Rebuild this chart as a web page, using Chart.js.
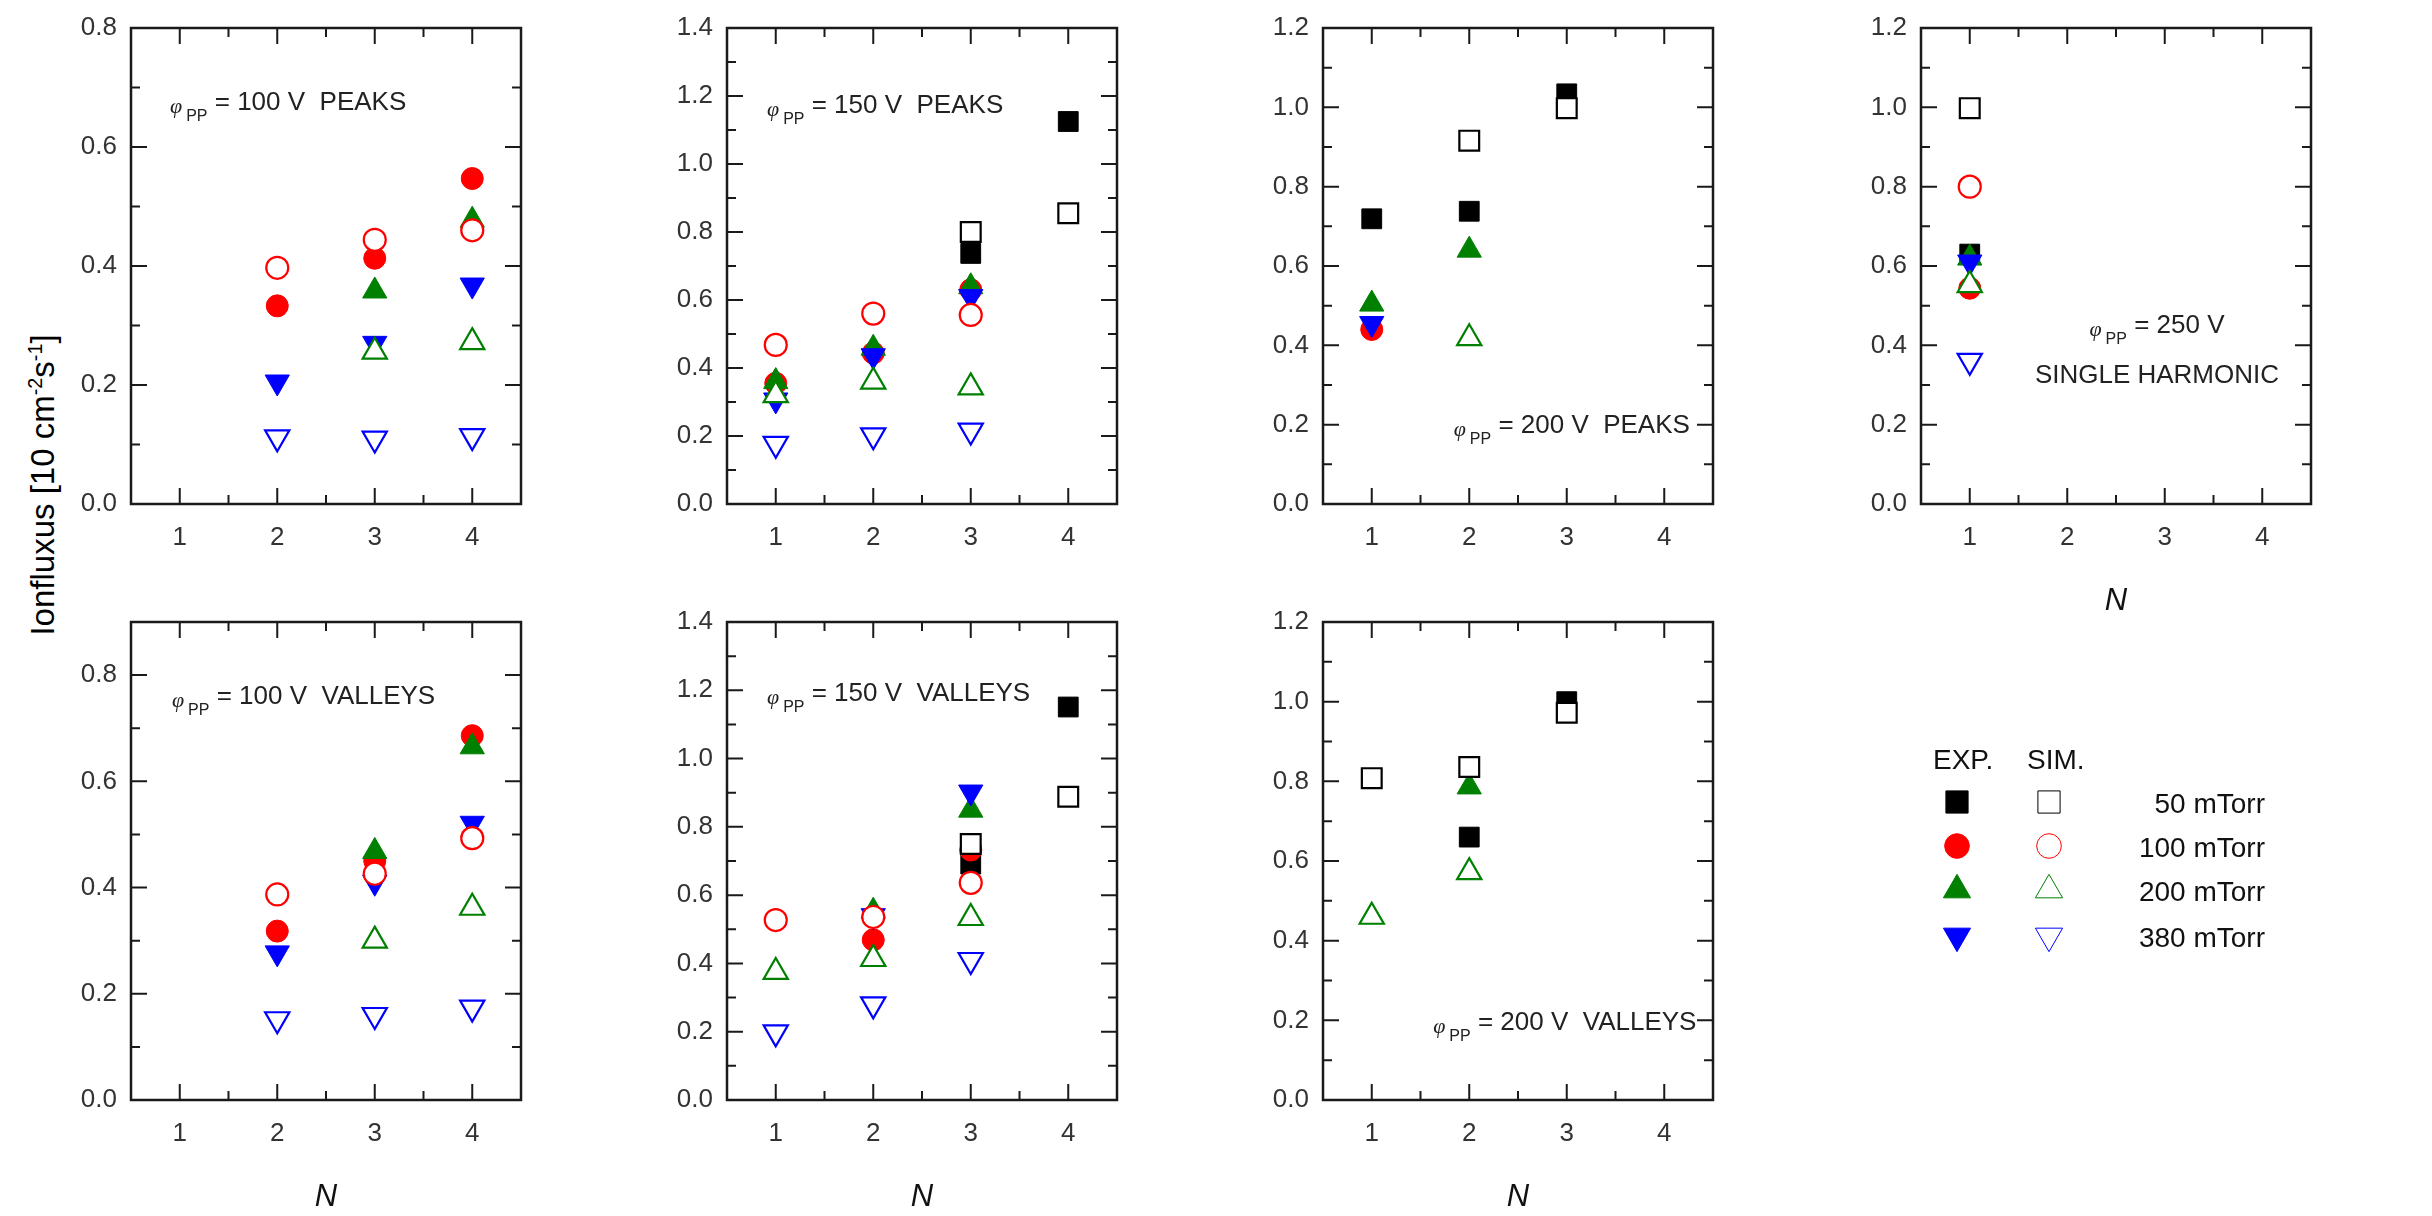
<!DOCTYPE html>
<html>
<head>
<meta charset="utf-8">
<title>Ionfluxus</title>
<script src="https://cdn.jsdelivr.net/npm/chart.js@4.4.1/dist/chart.umd.min.js"></script>
<style>
    body {
        margin: 0;
        background: #fff;
        width: 2432px;
        height: 1216px;
        position: relative;
        overflow: hidden;
        font-family: "Liberation Sans", Arial, sans-serif;
    }
    .panel { position: absolute; }
    #ytitle {
        position: absolute;
        left: 43px;
        top: 485px;
        transform: translate(-50%, -50%) rotate(-90deg);
        white-space: nowrap;
        font-size: 33px;
        color: #000;
    }
    #ytitle sup { font-size: 0.6em; }
    #legend { position: absolute; left: 1900px; top: 720px; }
</style>
</head>
<body>
<div id="ytitle">Ionfluxus [10 cm<sup>-2</sup>s<sup>-1</sup>]</div>
<canvas id="legend" width="420" height="260"></canvas>

<script>
// axis values
const N_TICKS = [1, 2, 3, 4];
const N_MINOR = [1.5, 2.5, 3.5];
const Y_TICKS_08 = [0, 0.2, 0.4, 0.6, 0.8];
const Y_TICKS_12 = [0, 0.2, 0.4, 0.6, 0.8, 1.0, 1.2];
const Y_TICKS_14 = [0, 0.2, 0.4, 0.6, 0.8, 1.0, 1.2, 1.4];
const PRESSURES = ['50 mTorr', '100 mTorr', '200 mTorr', '380 mTorr'];

// rows: 50 / 100 / 200 / 380 mTorr, columns: N = 1..4
const peaks100Exp = [
    [null, null, null, null],
    [null, 0.333, 0.413, 0.547],
    [null, null, 0.358, 0.477],
    [null, 0.205, 0.27, 0.368]
];
const peaks100Sim = [
    [null, null, null, null],
    [null, 0.397, 0.444, 0.46],
    [null, null, 0.256, 0.272],
    [null, 0.112, 0.11, 0.114]
];
const peaks150Exp = [
    [null, null, 0.737, 1.125],
    [0.355, 0.444, 0.63, null],
    [0.36, 0.458, 0.639, null],
    [0.306, 0.436, 0.61, null]
];
const peaks150Sim = [
    [null, null, 0.80, 0.855],
    [0.468, 0.56, 0.556, null],
    [0.32, 0.36, 0.343, null],
    [0.177, 0.202, 0.216, null]
];
const peaks200Exp = [
    [0.719, 0.738, 1.034, null],
    [0.44, null, null, null],
    [0.504, 0.64, null, null],
    [0.455, null, null, null]
];
const peaks200Sim = [
    [null, 0.916, 0.998, null],
    [null, null, null, null],
    [null, 0.418, null, null],
    [null, null, null, null]
];
const single250Exp = [
    [0.63, null, null, null],
    [0.544, null, null, null],
    [0.62, null, null, null],
    [0.61, null, null, null]
];
const single250Sim = [
    [0.998, null, null, null],
    [0.80, null, null, null],
    [0.552, null, null, null],
    [0.361, null, null, null]
];
const valleys100Exp = [
    [null, null, null, null],
    [null, 0.318, 0.45, 0.686],
    [null, null, 0.468, 0.665],
    [null, 0.277, 0.41, 0.521]
];
const valleys100Sim = [
    [null, null, null, null],
    [null, 0.387, 0.426, 0.493],
    [null, null, 0.30, 0.362],
    [null, 0.152, 0.16, 0.174]
];
const valleys150Exp = [
    [null, null, 0.691, 1.151],
    [null, 0.469, 0.732, null],
    [null, 0.553, 0.849, null],
    [null, 0.54, 0.902, null]
];
const valleys150Sim = [
    [null, null, 0.75, 0.888],
    [0.527, 0.536, 0.636, null],
    [0.375, 0.413, 0.533, null],
    [0.198, 0.28, 0.41, null]
];
const valleys200Exp = [
    [null, 0.66, 1.0, null],
    [null, null, null, null],
    [null, 0.786, null, null],
    [null, null, null, null]
];
const valleys200Sim = [
    [0.808, 0.836, 0.972, null],
    [null, null, null, null],
    [0.46, 0.572, null, null],
    [null, null, null, null]
];

// marker look per pressure
const COLORS = ['#000000', '#ff0000', '#008000', '#0000ff'];
const SHAPES = ['rect', 'circle', 'triangle', 'triangle'];
const ROTATION = [0, 0, 0, 180];
const RADIUS = [14, 11, 14, 14];

const FONT = '"Liberation Sans", Arial, sans-serif';
const AXIS_LEFT = 110, AXIS_BOTTOM = 125, PAD_TOP = 30, PAD_RIGHT = 20;

const panels = [
    { left: 131, top: 28, w: 390, h: 476, yMax: 0.8, yTicks: Y_TICKS_08, exp: peaks100Exp, sim: peaks100Sim,
      notes: [{ x: 0.9, y: 0.662, phi: true, text: ' = 100 V  PEAKS' }] },
    { left: 727, top: 28, w: 390, h: 476, yMax: 1.4, yTicks: Y_TICKS_14, exp: peaks150Exp, sim: peaks150Sim,
      notes: [{ x: 0.91, y: 1.15, phi: true, text: ' = 150 V  PEAKS' }] },
    { left: 1323, top: 28, w: 390, h: 476, yMax: 1.2, yTicks: Y_TICKS_12, exp: peaks200Exp, sim: peaks200Sim,
      notes: [{ x: 1.84, y: 0.18, phi: true, text: ' = 200 V  PEAKS' }] },
    { left: 1921, top: 28, w: 390, h: 476, yMax: 1.2, yTicks: Y_TICKS_12, exp: single250Exp, sim: single250Sim,
      showN: true,
      notes: [{ x: 2.92, y: 0.431, phi: true, text: ' = 250 V', center: true },
              { x: 2.92, y: 0.305, text: 'SINGLE HARMONIC', center: true }] },
    { left: 131, top: 622, w: 390, h: 478, yMax: 0.9, yTicks: Y_TICKS_08, exp: valleys100Exp, sim: valleys100Sim,
      showN: true,
      notes: [{ x: 0.92, y: 0.745, phi: true, text: ' = 100 V  VALLEYS' }] },
    { left: 727, top: 622, w: 390, h: 478, yMax: 1.4, yTicks: Y_TICKS_14, exp: valleys150Exp, sim: valleys150Sim,
      showN: true,
      notes: [{ x: 0.91, y: 1.17, phi: true, text: ' = 150 V  VALLEYS' }] },
    { left: 1323, top: 622, w: 390, h: 478, yMax: 1.2, yTicks: Y_TICKS_12, exp: valleys200Exp, sim: valleys200Sim,
      showN: true,
      notes: [{ x: 1.63, y: 0.176, phi: true, text: ' = 200 V  VALLEYS' }] }
];

function seriesPoints(row) {
    return N_TICKS.map((n, i) => ({ x: n, y: row[i] })).filter(pt => pt.y !== null);
}

function buildDatasets(p) {
    let sets = [];
    [p.exp, p.sim].forEach((group, g) => {
        group.forEach((row, k) => {
            let filled = g === 0;
            sets.push({
                label: (filled ? 'EXP. ' : 'SIM. ') + PRESSURES[k],
                data: seriesPoints(row),
                showLine: false,
                pointStyle: SHAPES[k],
                pointRotation: ROTATION[k],
                pointRadius: RADIUS[k],
                pointHoverRadius: RADIUS[k],
                pointBackgroundColor: filled ? COLORS[k] : '#ffffff',
                pointBorderColor: COLORS[k],
                pointBorderWidth: filled ? 1 : 2.2,
                // sim on top of exp, higher pressure on top of lower
                order: 8 - sets.length
            });
        });
    });
    return sets;
}

// box around the plot with inward ticks on all four sides
const framePlugin = {
    id: 'frame',
    beforeDatasetsDraw(chart) {
        let ctx = chart.ctx, a = chart.chartArea, xs = chart.scales.x, ys = chart.scales.y;
        ctx.save();
        ctx.strokeStyle = '#1a1a1a';
        ctx.lineWidth = 2.5;
        ctx.strokeRect(a.left, a.top, a.right - a.left, a.bottom - a.top);
        ctx.lineWidth = 2;
        ctx.beginPath();
        let xTick = (v, len) => {
            let px = xs.getPixelForValue(v);
            ctx.moveTo(px, a.bottom); ctx.lineTo(px, a.bottom - len);
            ctx.moveTo(px, a.top); ctx.lineTo(px, a.top + len);
        };
        let yTick = (v, len) => {
            let py = ys.getPixelForValue(v);
            ctx.moveTo(a.left, py); ctx.lineTo(a.left + len, py);
            ctx.moveTo(a.right, py); ctx.lineTo(a.right - len, py);
        };
        N_TICKS.forEach(v => xTick(v, 16));
        N_MINOR.forEach(v => xTick(v, 9));
        ys.ticks.forEach(t => yTick(t.value, 16));
        for (let v = 0.1; v < ys.max - 0.01; v += 0.2) yTick(v, 9);
        ctx.stroke();
        ctx.restore();
    }
};

function drawNote(ctx, x, y, note) {
    let parts = [];
    if (note.phi) {
        parts.push({ t: '\u03c6', font: 'italic 22px "Liberation Serif", serif', dy: 3, gap: 4 });
        parts.push({ t: 'PP', font: '16px ' + FONT, dy: 11, gap: 0 });
    }
    parts.push({ t: note.text, font: '26px ' + FONT, dy: 0, gap: 0 });
    let total = 0;
    parts.forEach(pt => {
        ctx.font = pt.font;
        pt.w = ctx.measureText(pt.t).width;
        total += pt.w + pt.gap;
    });
    let cx = note.center ? x - total / 2 : x;
    ctx.textBaseline = 'alphabetic';
    ctx.textAlign = 'left';
    parts.forEach(pt => {
        ctx.font = pt.font;
        ctx.fillText(pt.t, cx, y + pt.dy);
        cx += pt.w + pt.gap;
    });
}

function makeTextPlugin(p) {
    return {
        id: 'panelText',
        afterDatasetsDraw(chart) {
            let ctx = chart.ctx, xs = chart.scales.x, ys = chart.scales.y, a = chart.chartArea;
            ctx.save();
            ctx.fillStyle = '#222';
            p.notes.forEach(n => drawNote(ctx, xs.getPixelForValue(n.x), ys.getPixelForValue(n.y), n));
            if (p.showN) {
                ctx.font = 'italic 31px ' + FONT;
                ctx.textAlign = 'center';
                ctx.textBaseline = 'middle';
                ctx.fillStyle = '#111';
                ctx.fillText('N', (a.left + a.right) / 2, a.bottom + 97);
            }
            ctx.restore();
        }
    };
}

panels.forEach((p, i) => {
    let box = document.createElement('div');
    box.className = 'panel';
    let w = p.w + AXIS_LEFT + PAD_RIGHT, h = p.h + PAD_TOP + AXIS_BOTTOM;
    box.style.left = (p.left - AXIS_LEFT) + 'px';
    box.style.top = (p.top - PAD_TOP) + 'px';
    box.style.width = w + 'px';
    box.style.height = h + 'px';
    let cv = document.createElement('canvas');
    cv.width = w;
    cv.height = h;
    box.appendChild(cv);
    document.body.appendChild(box);

    new Chart(cv.getContext('2d'), {
        type: 'scatter',
        data: { datasets: buildDatasets(p) },
        options: {
            responsive: false,
            animation: false,
            layout: { padding: { top: PAD_TOP, right: PAD_RIGHT, left: 0, bottom: 0 } },
            plugins: {
                legend: { display: false },
                tooltip: { enabled: false }
            },
            scales: {
                x: {
                    type: 'linear',
                    min: 0.5,
                    max: 4.5,
                    grid: { display: false, drawTicks: false },
                    border: { display: false },
                    afterBuildTicks: s => { s.ticks = N_TICKS.map(v => ({ value: v })); },
                    afterFit: s => { s.height = AXIS_BOTTOM; },
                    ticks: {
                        padding: 18,
                        maxRotation: 0,
                        autoSkip: false,
                        color: '#333',
                        font: { family: FONT, size: 26 },
                        callback: v => String(v)
                    }
                },
                y: {
                    type: 'linear',
                    min: 0,
                    max: p.yMax,
                    grid: { display: false, drawTicks: false },
                    border: { display: false },
                    afterBuildTicks: s => { s.ticks = p.yTicks.map(v => ({ value: v })); },
                    afterFit: s => { s.width = AXIS_LEFT; },
                    ticks: {
                        padding: 14,
                        autoSkip: false,
                        color: '#333',
                        font: { family: FONT, size: 26 },
                        callback: v => Number(v).toFixed(1)
                    }
                }
            }
        },
        plugins: [framePlugin, makeTextPlugin(p)]
    });
});

// EXP. / SIM. key
function drawLegend() {
    let ctx = document.getElementById('legend').getContext('2d');
    let drawPoint = Chart.helpers && Chart.helpers.drawPoint;
    ctx.fillStyle = '#111';
    ctx.font = '28px ' + FONT;
    ctx.textBaseline = 'alphabetic';
    ctx.fillText('EXP.', 33, 49);
    ctx.fillText('SIM.', 127, 49);
    let rowY = [82, 126, 170, 216];
    PRESSURES.forEach((name, k) => {
        [true, false].forEach(filled => {
            ctx.save();
            ctx.fillStyle = filled ? COLORS[k] : '#ffffff';
            ctx.strokeStyle = COLORS[k];
            if (drawPoint) {
                drawPoint(ctx, {
                    pointStyle: SHAPES[k],
                    rotation: ROTATION[k],
                    radius: RADIUS[k] * 1.12,
                    borderWidth: filled ? 1 : 2.4
                }, filled ? 57 : 149, rowY[k]);
            }
            ctx.restore();
        });
        ctx.fillStyle = '#111';
        ctx.font = '28px ' + FONT;
        ctx.textAlign = 'right';
        ctx.fillText(name, 365, rowY[k] + 11);
        ctx.textAlign = 'left';
    });
}
drawLegend();
</script>
</body>
</html>
